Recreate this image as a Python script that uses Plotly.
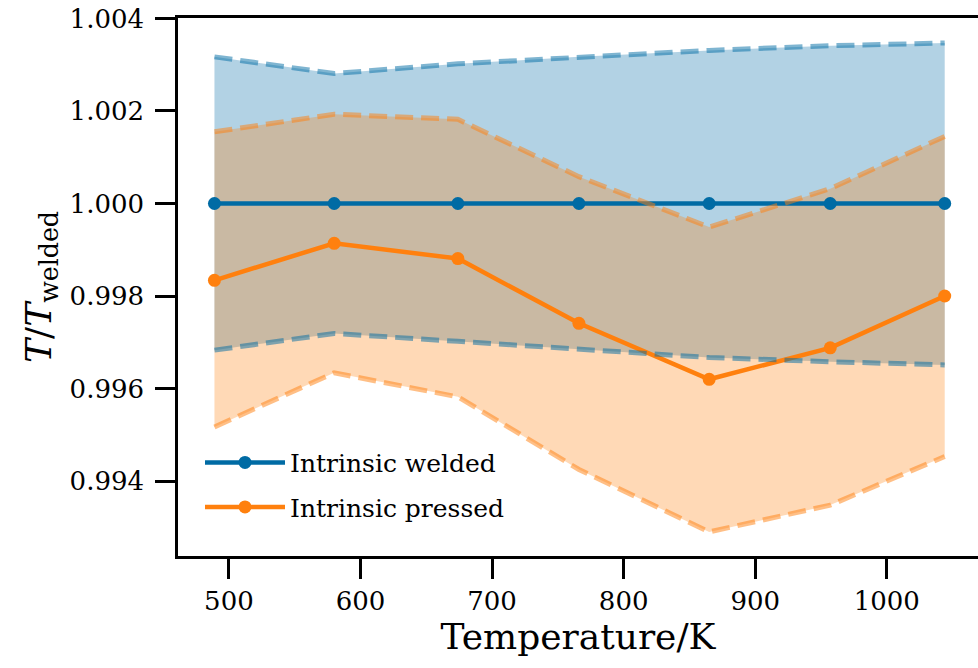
import plotly.graph_objects as go

# ---- data ----
temperature = [489, 580, 674, 766, 865, 957, 1044]

welded_mean = [1.0, 1.0, 1.0, 1.0, 1.0, 1.0, 1.0]
welded_upper = [1.00317, 1.00281, 1.00302, 1.00317, 1.00331, 1.00341, 1.00347]
welded_lower = [0.99683, 0.99719, 0.99702, 0.99685, 0.99667, 0.99658, 0.99651]

pressed_mean = [0.99834, 0.99914, 0.99881, 0.99741, 0.99620, 0.99688, 0.99800]
pressed_upper = [1.00155, 1.00193, 1.00182, 1.00058, 0.99949, 1.00032, 1.00145]
pressed_lower = [0.99517, 0.99634, 0.99582, 0.99425, 0.99290, 0.99348, 0.99453]

x_ticks = [500, 600, 700, 800, 900, 1000]
y_ticks = [0.994, 0.996, 0.998, 1.000, 1.002, 1.004]

BLUE = "#006BA4"
ORANGE = "#FF800E"
FONT = "DejaVu Serif"

fig = go.Figure()

def band(lower, upper, rgb):
    fig.add_trace(go.Scatter(
        x=temperature + temperature[::-1],
        y=upper + lower[::-1],
        fill="toself", fillcolor=f"rgba({rgb},0.3)",
        line=dict(width=0), mode="lines", showlegend=False, hoverinfo="skip"))

band(welded_lower, welded_upper, "0,107,164")
band(pressed_lower, pressed_upper, "255,128,14")

fig.add_trace(go.Scatter(x=temperature, y=welded_mean, mode="lines+markers",
                         name="Intrinsic welded", legendgroup="w",
                         line=dict(color=BLUE, width=4.5),
                         marker=dict(color=BLUE, size=13)))
fig.add_trace(go.Scatter(x=temperature, y=pressed_mean, mode="lines+markers",
                         name="Intrinsic pressed", legendgroup="p",
                         line=dict(color=ORANGE, width=4.5),
                         marker=dict(color=ORANGE, size=13)))

for ys, rgb in [(welded_upper, "0,107,164"), (welded_lower, "0,107,164"),
                (pressed_upper, "255,128,14"), (pressed_lower, "255,128,14")]:
    fig.add_trace(go.Scatter(x=temperature, y=ys, mode="lines",
                             line=dict(color=f"rgba({rgb},0.5)", width=5, dash="18px,8px"),
                             showlegend=False, hoverinfo="skip"))

axis_common = dict(
    showgrid=False, zeroline=False, showline=True, linecolor="black", linewidth=2.5,
    ticks="outside", ticklen=20, tickwidth=2.5, tickcolor="black",
    tickfont=dict(family=FONT, size=26, color="black"),
)

fig.update_xaxes(range=[461.3, 1069.3], tickvals=x_ticks,
                 ticktext=[str(v) for v in x_ticks], mirror=True,
                 ticklabelstandoff=0,
                 title=dict(text="Temperature/K", font=dict(family=FONT, size=36, color="black"),
                            standoff=6),
                 **axis_common)
fig.update_yaxes(range=[0.99238, 1.00401], tickvals=y_ticks,
                 ticktext=[f"{v:.3f}" for v in y_ticks],
                 ticklabelstandoff=6,
                 title=dict(text="<i>T</i>/<i>T</i><sub>welded</sub>",
                            font=dict(family=FONT, size=36, color="black"), standoff=8),
                 **axis_common)

fig.update_layout(
    width=978, height=668,
    margin=dict(l=178, r=0, t=18, b=112),
    plot_bgcolor="white", paper_bgcolor="white",
    legend=dict(x=0.0275, y=0.2163, xanchor="left", yanchor="top",
                bgcolor="rgba(0,0,0,0)", font=dict(family=FONT, size=25, color="black"),
                itemwidth=80, tracegroupgap=9),
)

fig.write_html("out.html")
